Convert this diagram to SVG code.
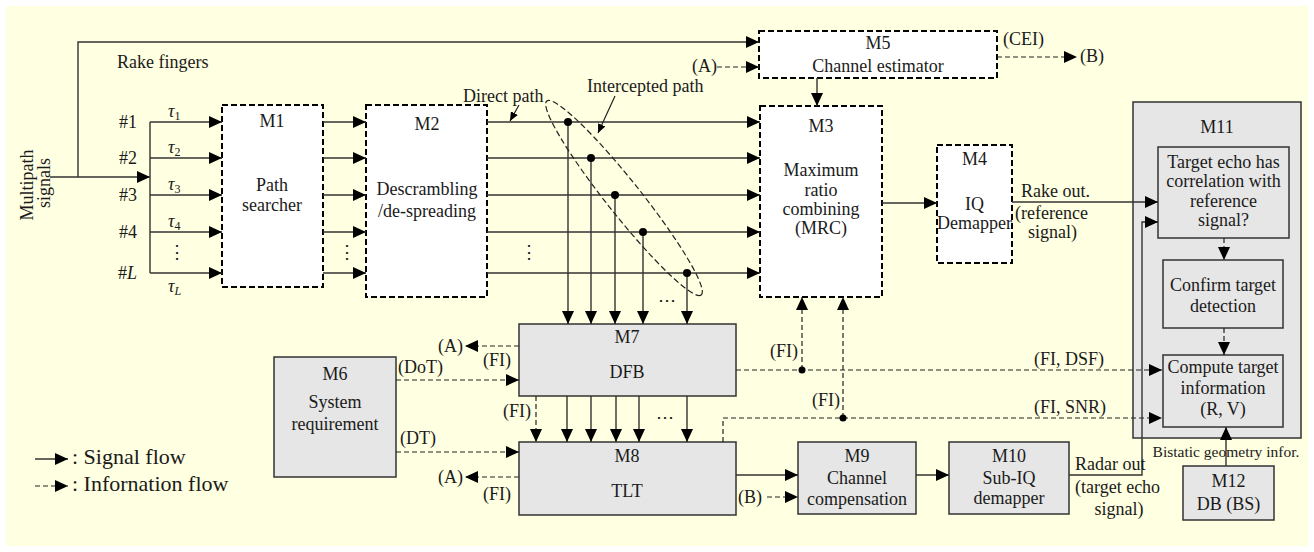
<svg xmlns="http://www.w3.org/2000/svg" width="1314" height="552" viewBox="0 0 1314 552" font-family="Liberation Serif, serif">
  <defs>
    <marker id="arr" markerUnits="userSpaceOnUse" markerWidth="13" markerHeight="12" refX="13" refY="6" orient="auto">
      <path d="M0,0 L13,6 L0,12 z" fill="#000"/>
    </marker>
    <marker id="arrS" markerUnits="userSpaceOnUse" markerWidth="9" markerHeight="8" refX="9" refY="4" orient="auto">
      <path d="M0,0 L9,4 L0,8 z" fill="#000"/>
    </marker>
    <style>
      text { font-size: 18px; fill: #1a1a1a; }
      .c { text-anchor: middle; }
      .e { text-anchor: end; }
      .small { font-size: 15.5px; }
      .leg { font-size: 22px; }
      .dashbox { fill: #fff; stroke: #000; stroke-width: 2; stroke-dasharray: 6 3; }
      .graybox { fill: #e6e6e6; stroke: #333; stroke-width: 1.5; }
      .sig { fill: none; stroke: #333; stroke-width: 1.4; marker-end: url(#arr); }
      .line { fill: none; stroke: #333; stroke-width: 1.4; }
      .info { fill: none; stroke: #222; stroke-width: 1.2; stroke-dasharray: 5 3; marker-end: url(#arr); }
      .dot { fill: #000; }
      .ptr { fill: none; stroke: #222; stroke-width: 1.2; marker-end: url(#arrS); }
    </style>
  </defs>

  <!-- canvas -->
  <rect x="6" y="6" width="1302" height="540" fill="#ffffe1"/>

  <g id="M1">
    <rect class="dashbox" x="222" y="105" width="101" height="182"/>
    <text class="c" x="272" y="127">M1</text>
    <text class="c" x="272" y="191">Path</text>
    <text class="c" x="272" y="211">searcher</text>
  </g>
  <g id="M2">
    <rect class="dashbox" x="366" y="105" width="121" height="192"/>
    <text class="c" x="427" y="130">M2</text>
    <text class="c" x="427" y="195">Descrambling</text>
    <text class="c" x="427" y="217">/de-spreading</text>
  </g>
  <g id="M3">
    <rect class="dashbox" x="760" y="106" width="122" height="191"/>
    <text class="c" x="821" y="132">M3</text>
    <text class="c" x="821" y="176">Maximum</text>
    <text class="c" x="821" y="196">ratio</text>
    <text class="c" x="821" y="215">combining</text>
    <text class="c" x="821" y="234">(MRC)</text>
  </g>
  <g id="M4">
    <rect class="dashbox" x="937" y="145" width="75" height="118"/>
    <text class="c" x="974.5" y="165">M4</text>
    <text class="c" x="974.5" y="210">IQ</text>
    <text class="c" x="974.5" y="229">Demapper</text>
  </g>
  <g id="M5">
    <rect class="dashbox" x="759" y="31" width="238" height="47"/>
    <text class="c" x="878" y="49">M5</text>
    <text class="c" x="878" y="72">Channel estimator</text>
  </g>
  <g id="M6">
    <rect class="graybox" x="274" y="357" width="122" height="120"/>
    <text class="c" x="335" y="380">M6</text>
    <text class="c" x="335" y="408">System</text>
    <text class="c" x="335" y="430">requirement</text>
  </g>
  <g id="M7">
    <rect class="graybox" x="519" y="324" width="217" height="72"/>
    <text class="c" x="627" y="343">M7</text>
    <text class="c" x="627" y="378">DFB</text>
  </g>
  <g id="M8">
    <rect class="graybox" x="519" y="442" width="217" height="73"/>
    <text class="c" x="627" y="462">M8</text>
    <text class="c" x="627" y="497">TLT</text>
  </g>
  <g id="M9">
    <rect class="graybox" x="798" y="442" width="118" height="72"/>
    <text class="c" x="857" y="462">M9</text>
    <text class="c" x="857" y="484">Channel</text>
    <text class="c" x="857" y="505">compensation</text>
  </g>
  <g id="M10">
    <rect class="graybox" x="949" y="442" width="120" height="72"/>
    <text class="c" x="1009" y="462">M10</text>
    <text class="c" x="1009" y="484">Sub-IQ</text>
    <text class="c" x="1009" y="504">demapper</text>
  </g>
  <g id="M11">
    <rect class="graybox" x="1133" y="102" width="168" height="336"/>
    <text class="c" x="1217" y="133">M11</text>
    <rect class="graybox" x="1158" y="147" width="131" height="91"/>
    <text class="c" x="1223.5" y="168">Target echo has</text>
    <text class="c" x="1223.5" y="187">correlation with</text>
    <text class="c" x="1223.5" y="207">reference</text>
    <text class="c" x="1223.5" y="226">signal?</text>
    <rect class="graybox" x="1163" y="260" width="120" height="68"/>
    <text class="c" x="1223" y="291">Confirm target</text>
    <text class="c" x="1223" y="312">detection</text>
    <rect class="graybox" x="1163" y="355" width="120" height="72"/>
    <text class="c" x="1223" y="373">Compute target</text>
    <text class="c" x="1223" y="394">information</text>
    <text class="c" x="1223" y="415">(R, V)</text>
  </g>
  <g id="M12">
    <rect class="graybox" x="1183" y="466" width="91" height="54"/>
    <text class="c" x="1228.5" y="487">M12</text>
    <text class="c" x="1228.5" y="510">DB (BS)</text>
  </g>

  <!-- connectors, drawn over the node bodies -->
  <g id="connectors">
    <!-- input branches -->
    <path class="sig" d="M50,177 H150"/>
    <path class="sig" d="M78,177 V42 H759"/>
    <path class="line" d="M150,122 V273"/>
    <path class="sig" d="M150,122 H222"/>
    <path class="sig" d="M150,158 H222"/>
    <path class="sig" d="M150,195 H222"/>
    <path class="sig" d="M150,232 H222"/>
    <path class="sig" d="M150,273 H222"/>
    <!-- M1 to M2 -->
    <path class="sig" d="M323,122 H366"/>
    <path class="sig" d="M323,158 H366"/>
    <path class="sig" d="M323,195 H366"/>
    <path class="sig" d="M323,232 H366"/>
    <path class="sig" d="M323,273 H366"/>
    <!-- M2 to M3 -->
    <path class="sig" d="M487,122 H760"/>
    <path class="sig" d="M487,158 H760"/>
    <path class="sig" d="M487,195 H760"/>
    <path class="sig" d="M487,232 H760"/>
    <path class="sig" d="M487,273 H760"/>
    <!-- taps into M7 -->
    <path class="sig" d="M568,122 V324"/>
    <path class="sig" d="M591,158 V324"/>
    <path class="sig" d="M615,195 V324"/>
    <path class="sig" d="M643,232 V324"/>
    <path class="sig" d="M687,273 V324"/>
    <circle class="dot" cx="568" cy="122" r="4"/>
    <circle class="dot" cx="591" cy="158" r="4"/>
    <circle class="dot" cx="615" cy="195" r="4"/>
    <circle class="dot" cx="643" cy="232" r="4"/>
    <circle class="dot" cx="687" cy="273" r="4"/>
    <ellipse cx="624" cy="198" rx="124" ry="17" transform="rotate(51.5 624 198)" fill="none" stroke="#222" stroke-width="1.2" stroke-dasharray="6 3"/>
    <path class="ptr" d="M519,105 L510,121"/>
    <path class="ptr" d="M615,96 L598,133"/>
    <!-- M7 to M8 -->
    <path class="sig" d="M567,396 V442"/>
    <path class="sig" d="M591,396 V442"/>
    <path class="sig" d="M616,396 V442"/>
    <path class="sig" d="M639,396 V442"/>
    <path class="sig" d="M687,396 V442"/>
    <path class="info" d="M536,396 V442"/>
    <!-- estimator and combiner -->
    <path class="sig" d="M817,78 V106"/>
    <path class="info" d="M717,67 H759"/>
    <path class="info" d="M997,57 H1077"/>
    <path class="sig" d="M882,203 H937"/>
    <path class="sig" d="M1012,202 H1158"/>
    <!-- system requirement -->
    <path class="info" d="M396,380 H519"/>
    <path class="info" d="M396,452 H519"/>
    <path class="info" d="M519,346 H465"/>
    <path class="info" d="M519,477 H465"/>
    <!-- feedback information -->
    <path class="info" d="M736,370 H1162"/>
    <path class="info" d="M802,370 V297"/>
    <circle class="dot" cx="802" cy="370" r="3.5"/>
    <path class="info" d="M723,442 V418 H1162"/>
    <path class="info" d="M843,418 V297"/>
    <circle class="dot" cx="843" cy="418" r="3.5"/>
    <!-- radar chain -->
    <path class="sig" d="M736,475 H798"/>
    <path class="info" d="M767,497 H798"/>
    <path class="sig" d="M916,475 H949"/>
    <path class="sig" d="M1069,475 H1142 V222 H1158"/>
    <path class="sig" d="M1226,466 V427"/>
    <!-- M11 internal -->
    <path class="info" d="M1224,238 V260"/>
    <path class="info" d="M1224,328 V355"/>
    <!-- legend -->
    <path class="sig" d="M35,459 H68"/>
    <path class="info" d="M35,486 H68"/>
  </g>

  <!-- loose labels -->
  <g id="labels">
    <text x="117" y="68">Rake fingers</text>
    <text transform="translate(33,185) rotate(-90)" class="c">Multipath</text>
    <text transform="translate(50,183) rotate(-90)" class="c">signals</text>
    <text class="e" x="137" y="128">#1</text>
    <text class="e" x="137" y="164">#2</text>
    <text class="e" x="137" y="201">#3</text>
    <text class="e" x="137" y="238">#4</text>
    <text class="e" x="137" y="279">#<tspan font-style="italic">L</tspan></text>
    <text x="168" y="117"><tspan font-style="italic">τ</tspan><tspan font-size="12" dy="3">1</tspan></text>
    <text x="168" y="153"><tspan font-style="italic">τ</tspan><tspan font-size="12" dy="3">2</tspan></text>
    <text x="168" y="190"><tspan font-style="italic">τ</tspan><tspan font-size="12" dy="3">3</tspan></text>
    <text x="168" y="227"><tspan font-style="italic">τ</tspan><tspan font-size="12" dy="3">4</tspan></text>
    <text x="168" y="292"><tspan font-style="italic">τ</tspan><tspan font-size="12" font-style="italic" dy="3">L</tspan></text>
    <text class="c" x="177" y="258" font-size="16">⋮</text>
    <text class="c" x="347" y="258" font-size="16">⋮</text>
    <text class="c" x="529" y="258" font-size="16">⋮</text>
    <text class="c" x="667" y="306" font-size="16">⋯</text>
    <text class="c" x="665" y="423" font-size="16">⋯</text>
    <text x="463" y="102">Direct path</text>
    <text x="587" y="92">Intercepted path</text>
    <text class="e" x="717" y="72">(A)</text>
    <text x="1003" y="45">(CEI)</text>
    <text x="1080" y="62">(B)</text>
    <text x="1021" y="197">Rake out.</text>
    <text x="1015" y="219">(reference</text>
    <text x="1028" y="238">signal)</text>
    <text class="e" x="463" y="352">(A)</text>
    <text x="483" y="366">(FI)</text>
    <text x="398" y="373">(DoT)</text>
    <text x="400" y="444">(DT)</text>
    <text class="e" x="463" y="483">(A)</text>
    <text x="483" y="500">(FI)</text>
    <text x="503" y="417">(FI)</text>
    <text x="770" y="357">(FI)</text>
    <text x="812" y="406">(FI)</text>
    <text x="1034" y="365">(FI, DSF)</text>
    <text x="1034" y="413">(FI, SNR)</text>
    <text x="738" y="503">(B)</text>
    <text x="1075" y="470">Radar out</text>
    <text x="1075" y="493">(target echo</text>
    <text class="c" x="1119" y="515">signal)</text>
    <text class="c small" x="1226" y="457">Bistatic geometry infor.</text>
    <text class="leg" x="72" y="464">: Signal flow</text>
    <text class="leg" x="72" y="491">: Infornation flow</text>
  </g>
</svg>
